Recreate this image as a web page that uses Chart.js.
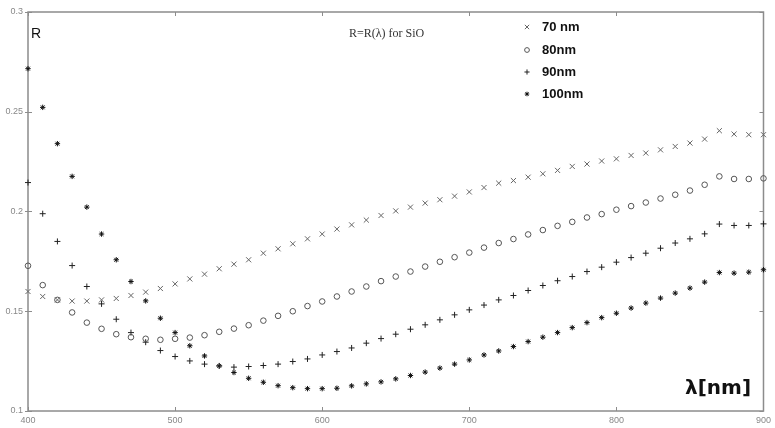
<!DOCTYPE html>
<html>
<head>
<meta charset="utf-8">
<script src="https://cdn.jsdelivr.net/npm/chart.js@4/dist/chart.umd.min.js"></script>
<style>
  html, body { margin: 0; padding: 0; background: #fff; }
  canvas { display: block; }
</style>
</head>
<body>
<canvas id="chartR" width="775" height="428"></canvas>
<script>
// wavelength grid, nm
const lambda = [];
for (let w = 400; w <= 900; w += 10) lambda.push(w);

const xTickLabels = ["400", "500", "600", "700", "800", "900"];
const yTickLabels = ["0.1", "0.15", "0.2", "0.25", "0.3"];
const seriesNames = ["70 nm", "80nm", "90nm", "100nm"];

// R values
const r70 = [0.1599, 0.1574, 0.1557, 0.1551, 0.1551, 0.1557, 0.1564, 0.1579, 0.1596, 0.1614,
             0.1637, 0.1662, 0.1686, 0.1713, 0.1736, 0.1758, 0.1791, 0.1813, 0.1838, 0.1863,
             0.1887, 0.1912, 0.1933, 0.1957, 0.1980, 0.2003, 0.2022, 0.2042, 0.2059, 0.2077,
             0.2098, 0.2120, 0.2142, 0.2155, 0.2172, 0.2189, 0.2206, 0.2226, 0.2238, 0.2253,
             0.2264, 0.2281, 0.2293, 0.2309, 0.2326, 0.2343, 0.2363, 0.2405, 0.2388, 0.2385,
             0.2385];
const r80 = [0.1728, 0.1631, 0.1557, 0.1494, 0.1443, 0.1412, 0.1385, 0.1370, 0.1362, 0.1357,
             0.1362, 0.1368, 0.1380, 0.1397, 0.1413, 0.1430, 0.1453, 0.1477, 0.1500, 0.1526,
             0.1549, 0.1574, 0.1599, 0.1624, 0.1651, 0.1674, 0.1699, 0.1724, 0.1748, 0.1771,
             0.1794, 0.1819, 0.1842, 0.1862, 0.1885, 0.1907, 0.1928, 0.1948, 0.1970, 0.1987,
             0.2009, 0.2027, 0.2045, 0.2065, 0.2084, 0.2105, 0.2134, 0.2176, 0.2163, 0.2163,
             0.2166];
const r90 = [0.2145, 0.1989, 0.1850, 0.1729, 0.1624, 0.1537, 0.1460, 0.1393, 0.1345, 0.1303,
             0.1273, 0.1251, 0.1235, 0.1226, 0.1220, 0.1223, 0.1228, 0.1235, 0.1248, 0.1261,
             0.1281, 0.1298, 0.1316, 0.1340, 0.1363, 0.1385, 0.1410, 0.1432, 0.1457, 0.1482,
             0.1507, 0.1531, 0.1557, 0.1579, 0.1604, 0.1629, 0.1653, 0.1674, 0.1699, 0.1721,
             0.1746, 0.1769, 0.1791, 0.1816, 0.1842, 0.1863, 0.1888, 0.1937, 0.1930, 0.1930,
             0.1938];
const r100 = [0.2716, 0.2522, 0.2340, 0.2176, 0.2022, 0.1887, 0.1758, 0.1649, 0.1552, 0.1465,
              0.1393, 0.1327, 0.1276, 0.1226, 0.1193, 0.1164, 0.1144, 0.1127, 0.1117, 0.1112,
              0.1112, 0.1114, 0.1126, 0.1136, 0.1146, 0.1161, 0.1178, 0.1195, 0.1215, 0.1235,
              0.1256, 0.1281, 0.1301, 0.1323, 0.1348, 0.1370, 0.1393, 0.1418, 0.1443, 0.1468,
              0.1490, 0.1516, 0.1541, 0.1566, 0.1591, 0.1616, 0.1646, 0.1694, 0.1691, 0.1696,
              0.1708];

const toPts = (vals) => vals.map((v, i) => ({ x: lambda[i], y: v }));

const styles = [
  { pointStyle: "crossRot", radius: 3.6, color: "#666" },
  { pointStyle: "circle", radius: 2.8, color: "#555" },
  { pointStyle: "cross", radius: 3, color: "#222" },
  { pointStyle: "star", radius: 2.7, color: "#111" },
];
const allSeries = [r70, r80, r90, r100];

// frame, inward ticks, labels and legend
const decorPlugin = {
  id: "decor",
  beforeDatasetsDraw(chart) {
    const ctx = chart.ctx;
    const a = chart.chartArea;
    const xs = chart.scales.x, ys = chart.scales.y;
    ctx.save();
    ctx.strokeStyle = "#8c8c8c";
    ctx.lineWidth = 1.5;
    ctx.strokeRect(a.left, a.top, a.right - a.left, a.bottom - a.top);
    ctx.lineWidth = 1;
    ctx.beginPath();
    xs.ticks.forEach(t => {
      const px = Math.round(xs.getPixelForValue(t.value)) + 0.5;
      ctx.moveTo(px, a.bottom); ctx.lineTo(px, a.bottom - 4);
      ctx.moveTo(px, a.top); ctx.lineTo(px, a.top + 4);
    });
    ys.ticks.forEach(t => {
      const py = Math.round(ys.getPixelForValue(t.value)) + 0.5;
      ctx.moveTo(a.left - 3, py); ctx.lineTo(a.left + 4, py);
      ctx.moveTo(a.right, py); ctx.lineTo(a.right - 4, py);
    });
    ctx.stroke();
    ctx.restore();
  },
  afterDraw(chart) {
    const ctx = chart.ctx;
    const a = chart.chartArea;
    ctx.save();
    ctx.fillStyle = "#111";
    ctx.textBaseline = "alphabetic";
    ctx.font = "14px 'Liberation Sans', Arial, sans-serif";
    ctx.fillText("R", a.left + 3, a.top + 26);

    ctx.fillStyle = "#333";
    ctx.font = "12px 'Liberation Serif', 'Times New Roman', serif";
    ctx.fillText("R=R(\u03bb) for SiO", 349, 37);

    // legend
    const rowsY = [27, 50, 72, 94];
    ctx.font = "bold 13px 'Liberation Sans', Arial, sans-serif";
    seriesNames.forEach((name, i) => {
      const s = styles[i];
      ctx.strokeStyle = s.color;
      ctx.fillStyle = "rgba(0,0,0,0)";
      ctx.lineWidth = 1;
      Chart.helpers.drawPoint(ctx, {
        pointStyle: s.pointStyle, radius: s.radius * 0.85, rotation: 0, borderWidth: 1
      }, 527, rowsY[i]);
      ctx.fillStyle = "#111";
      ctx.textBaseline = "middle";
      ctx.fillText(name, 542, rowsY[i]);
    });

    ctx.textBaseline = "alphabetic";
    ctx.font = "bold 20px 'DejaVu Sans', sans-serif";
    ctx.fillStyle = "#111";
    ctx.fillText("\u03bb[nm]", 685, 394);
    ctx.restore();
  }
};

new Chart(document.getElementById("chartR").getContext("2d"), {
  type: "scatter",
  data: {
    datasets: allSeries.map((vals, i) => ({
      label: seriesNames[i],
      data: toPts(vals),
      pointStyle: styles[i].pointStyle,
      pointRadius: styles[i].radius,
      pointHoverRadius: styles[i].radius,
      borderColor: styles[i].color,
      backgroundColor: "rgba(0,0,0,0)",
      pointBorderWidth: 1,
      showLine: false,
      clip: false,
    })),
  },
  options: {
    responsive: false,
    animation: false,
    devicePixelRatio: 1,
    layout: { padding: { top: 12, right: 10, left: 0, bottom: 0 } },
    plugins: { legend: { display: false }, tooltip: { enabled: false } },
    scales: {
      x: {
        type: "linear",
        min: 400, max: 900,
        grid: { display: false, drawTicks: false },
        border: { display: false },
        ticks: {
          stepSize: 100,
          padding: 4,
          color: "#888",
          font: { size: 9, family: "'Liberation Sans', Arial, sans-serif" },
          maxRotation: 0,
          callback: (v) => xTickLabels[Math.round((v - 400) / 100)],
        },
        afterFit: (s) => { s.height = 17; },
      },
      y: {
        type: "linear",
        min: 0.1, max: 0.3,
        grid: { display: false, drawTicks: false },
        border: { display: false },
        ticks: {
          stepSize: 0.05,
          padding: 5,
          color: "#888",
          font: { size: 9, family: "'Liberation Sans', Arial, sans-serif" },
          callback: (v) => yTickLabels[Math.round((v - 0.1) / 0.05)],
        },
        afterFit: (s) => { s.width = 28; },
      },
    },
  },
  plugins: [decorPlugin],
});
</script>
</body>
</html>
